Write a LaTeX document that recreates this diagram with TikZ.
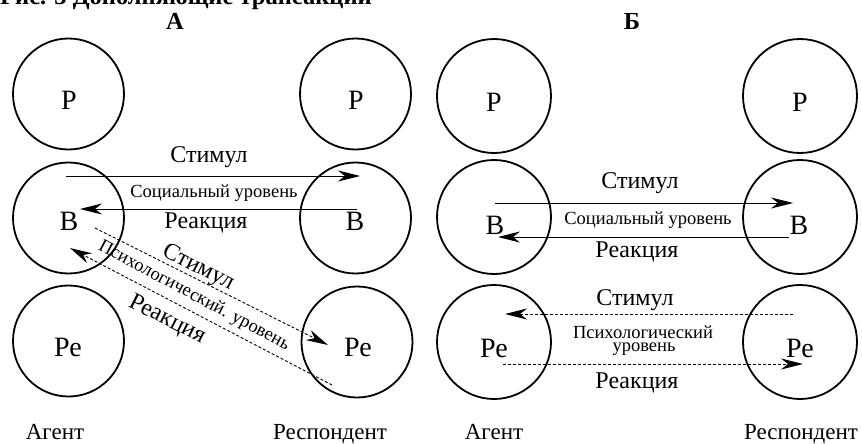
\documentclass[tikz,border=0pt]{standalone}
\usepackage{fontspec}
\setmainfont{Liberation Serif}
\newfontfamily\tnr{Liberation Serif}
\usetikzlibrary{arrows.meta}
\begin{document}
\begin{tikzpicture}[x=1pt,y=-1pt,
  ring/.style={circle,draw,line width=1.8pt,inner sep=0pt},
  ringA/.style={ring,minimum size=111pt},
  ringB/.style={ring,minimum size=114pt},
  big/.style={font=\tnr\fontsize{28}{28}\selectfont,inner sep=0pt},
  lab/.style={font=\tnr\fontsize{24}{24}\selectfont,inner sep=0pt},
  small/.style={font=\tnr\fontsize{18.5}{18.5}\selectfont,inner sep=0pt},
  foot/.style={font=\tnr\fontsize{23}{23}\selectfont,inner sep=0pt,anchor=base},
  head/.style={font=\tnr\bfseries\fontsize{24.5}{24.5}\selectfont,inner sep=0pt,anchor=base},
  arr/.style={line width=0.9pt,-{Stealth[length=22pt,width=11pt,inset=7pt]}},
  darr/.style={arr,dash pattern=on 3pt off 2pt},
]
\useasboundingbox (0,0) rectangle (862,444);
% title
\node[head,anchor=base west] (title) at (0,5) {Рис. 3 Дополняющие трансакции};
\node[head] (hA) at (175,30) {А};
\node[head] (hB) at (632,30) {Б};
% panel A circles
\node[ringA] (aP1) at (68.5,94) {};
\node[ringA] (aP2) at (355.5,94) {};
\node[ringA] (aB1) at (68.5,218) {};
\node[ringA] (aB2) at (355.5,218) {};
\node[ringA] (aR1) at (68.5,341) {};
\node[ringA] (aR2) at (357,342) {};
\node[big] (taP1) at (69,100) {Р};
\node[big] (taP2) at (356,100) {Р};
\node[big] (taB1) at (69,221) {В};
\node[big] (taB2) at (355,221) {В};
\node[big] (taR1) at (68,347) {Ре};
\node[big] (taR2) at (358,347) {Ре};
% panel B circles
\node[ringB] (bP1) at (494,96) {};
\node[ringB] (bP2) at (800,96) {};
\node[ringB] (bB1) at (494,217) {};
\node[ringB] (bB2) at (800,217) {};
\node[ringB] (bR1) at (494,342) {};
\node[ringB] (bR2) at (800,342) {};
\node[big] (tbP1) at (494,102) {Р};
\node[big] (tbP2) at (800,102) {Р};
\node[big] (tbB1) at (495,225) {В};
\node[big] (tbB2) at (799,225) {В};
\node[big] (tbR1) at (494,348) {Ре};
\node[big] (tbR2) at (800,348) {Ре};
% connector end points
\coordinate (a1s) at (66,176);   \coordinate (a1e) at (360,176);
\coordinate (a2s) at (357,209);  \coordinate (a2e) at (80,209);
\coordinate (a3s) at (95,228);   \coordinate (a3e) at (328,345);
\coordinate (a4s) at (332,385);  \coordinate (a4e) at (70,248);
\coordinate (b1s) at (495,203);  \coordinate (b1e) at (793,203);
\coordinate (b2s) at (789,237);  \coordinate (b2e) at (498,237);
\coordinate (b3s) at (793,314);  \coordinate (b3e) at (505,314);
\coordinate (b4s) at (503,364);  \coordinate (b4e) at (803,364);
% panel A arrows
\draw[arr] (a1s) -- (a1e);
\draw[arr] (a2s) -- (a2e);
\draw[darr] (a3s) -- (a3e);
\draw[darr] (a4s) -- (a4e);
\node[lab] (la1) at (209,157) {Стимул};
\node[small] (la2) at (214,193) {Социальный уровень};
\node[lab] (la3) at (206,223) {Реакция};
\node[lab,rotate=-27] (la4) at (198,268) {Стимул};
\node[small,rotate=-28] (la5) at (194,296) {Психологический. уровень};
\node[lab,rotate=-27] (la6) at (167,320) {Реакция};
% panel B arrows
\draw[arr] (b1s) -- (b1e);
\draw[arr] (b2s) -- (b2e);
\draw[darr] (b3s) -- (b3e);
\draw[darr] (b4s) -- (b4e);
\node[lab] (lb1) at (640,183) {Стимул};
\node[small] (lb2) at (648,220) {Социальный уровень};
\node[lab] (lb3) at (637,252) {Реакция};
\node[lab] (lb4) at (635,300) {Стимул};
\node[small] (lb5) at (643,332) {Психологический};
\node[small] (lb6) at (644,349) {уровень};
\node[lab] (lb7) at (637,383) {Реакция};
% footers
\node[foot] (fa1) at (55,439) {Агент};
\node[foot] (fa2) at (330,439) {Респондент};
\node[foot] (fb1) at (494,439) {Агент};
\node[foot] (fb2) at (801,439) {Респондент};
\end{tikzpicture}
\end{document}
